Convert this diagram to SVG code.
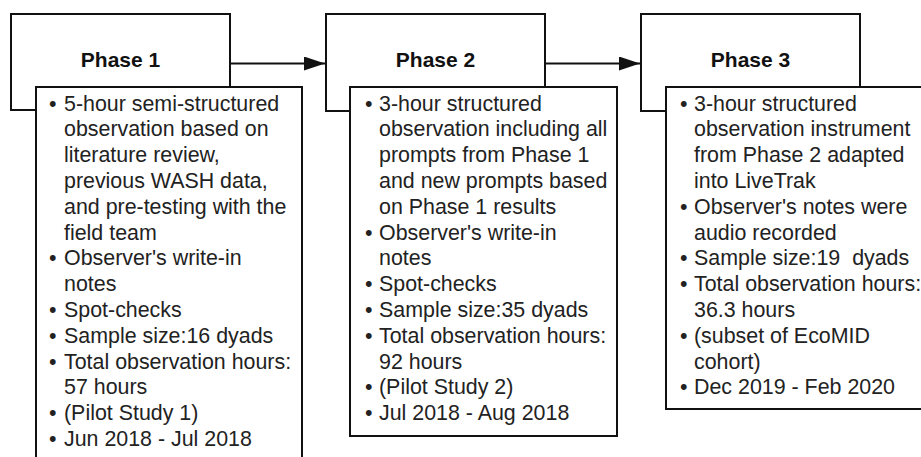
<svg xmlns="http://www.w3.org/2000/svg" width="921" height="457" viewBox="0 0 921 457">
<style>
.box{fill:#fff;stroke:#111;stroke-width:2}
.title{font-family:"Liberation Sans",Arial,sans-serif;font-weight:bold;font-size:21px;fill:#111;text-anchor:middle}
.body{font-family:"Liberation Sans",Arial,sans-serif;font-size:21.4px;fill:#222}
.conn{stroke:#111;stroke-width:2;fill:none}
</style>
<defs>
<marker id="arrow" viewBox="0 0 21 14" markerWidth="21" markerHeight="14" refX="21" refY="7" orient="auto" markerUnits="userSpaceOnUse">
<path d="M0,0 L21,7 L0,14 Z" fill="#111"/>
</marker>
</defs>
<rect width="921" height="457" fill="#fff"/>
<g id="connectors">
<line class="conn" x1="230" y1="63.5" x2="325" y2="63.5" marker-end="url(#arrow)"/>
<line class="conn" x1="545" y1="63.5" x2="640" y2="63.5" marker-end="url(#arrow)"/>
</g>
<g id="phase1">
<rect class="box" x="11" y="14" width="219" height="96"/>
<text class="title" x="120.5" y="67">Phase 1</text>
<rect class="box" x="36" y="87" width="266" height="380"/>
<g class="body">
<text x="49" y="110.5">•</text><text x="64" y="110.5">5-hour semi-structured</text>
<text x="64" y="136.3">observation based on</text>
<text x="64" y="162.1">literature review,</text>
<text x="64" y="187.9">previous WASH data,</text>
<text x="64" y="213.7">and pre-testing with the</text>
<text x="64" y="239.5">field team</text>
<text x="49" y="265.3">•</text><text x="64" y="265.3">Observer's write-in</text>
<text x="64" y="291.1">notes</text>
<text x="49" y="316.9">•</text><text x="64" y="316.9">Spot-checks</text>
<text x="49" y="342.7">•</text><text x="64" y="342.7">Sample size:16 dyads</text>
<text x="49" y="368.5">•</text><text x="64" y="368.5">Total observation hours:</text>
<text x="64" y="394.3">57 hours</text>
<text x="49" y="420.1">•</text><text x="64" y="420.1">(Pilot Study 1)</text>
<text x="49" y="445.9">•</text><text x="64" y="445.9">Jun 2018 - Jul 2018</text>
</g>
</g>
<g id="phase2">
<rect class="box" x="326" y="14" width="219" height="97"/>
<text class="title" x="435.5" y="67">Phase 2</text>
<rect class="box" x="350" y="87" width="267" height="349"/>
<g class="body">
<text x="365" y="110.5">•</text><text x="379" y="110.5">3-hour structured</text>
<text x="379" y="136.3">observation including all</text>
<text x="379" y="162.1">prompts from Phase 1</text>
<text x="379" y="187.9">and new prompts based</text>
<text x="379" y="213.7">on Phase 1 results</text>
<text x="365" y="239.5">•</text><text x="379" y="239.5">Observer's write-in</text>
<text x="379" y="265.3">notes</text>
<text x="365" y="291.1">•</text><text x="379" y="291.1">Spot-checks</text>
<text x="365" y="316.9">•</text><text x="379" y="316.9">Sample size:35 dyads</text>
<text x="365" y="342.7">•</text><text x="379" y="342.7">Total observation hours:</text>
<text x="379" y="368.5">92 hours</text>
<text x="365" y="394.3">•</text><text x="379" y="394.3">(Pilot Study 2)</text>
<text x="365" y="420.1">•</text><text x="379" y="420.1">Jul 2018 - Aug 2018</text>
</g>
</g>
<g id="phase3">
<rect class="box" x="641" y="14" width="219" height="97"/>
<text class="title" x="750.5" y="67">Phase 3</text>
<rect class="box" x="666" y="87" width="270" height="322"/>
<g class="body">
<text x="680" y="110.5">•</text><text x="694" y="110.5">3-hour structured</text>
<text x="694" y="136.3">observation instrument</text>
<text x="694" y="162.1">from Phase 2 adapted</text>
<text x="694" y="187.9">into LiveTrak</text>
<text x="680" y="213.7">•</text><text x="694" y="213.7">Observer's notes were</text>
<text x="694" y="239.5">audio recorded</text>
<text x="680" y="265.3">•</text><text x="694" y="265.3" xml:space="preserve">Sample size:19  dyads</text>
<text x="680" y="291.1">•</text><text x="694" y="291.1">Total observation hours:</text>
<text x="694" y="316.9">36.3 hours</text>
<text x="680" y="342.7">•</text><text x="694" y="342.7">(subset of EcoMID</text>
<text x="694" y="368.5">cohort)</text>
<text x="680" y="394.3">•</text><text x="694" y="394.3">Dec 2019 - Feb 2020</text>
</g>
</g>
</svg>
